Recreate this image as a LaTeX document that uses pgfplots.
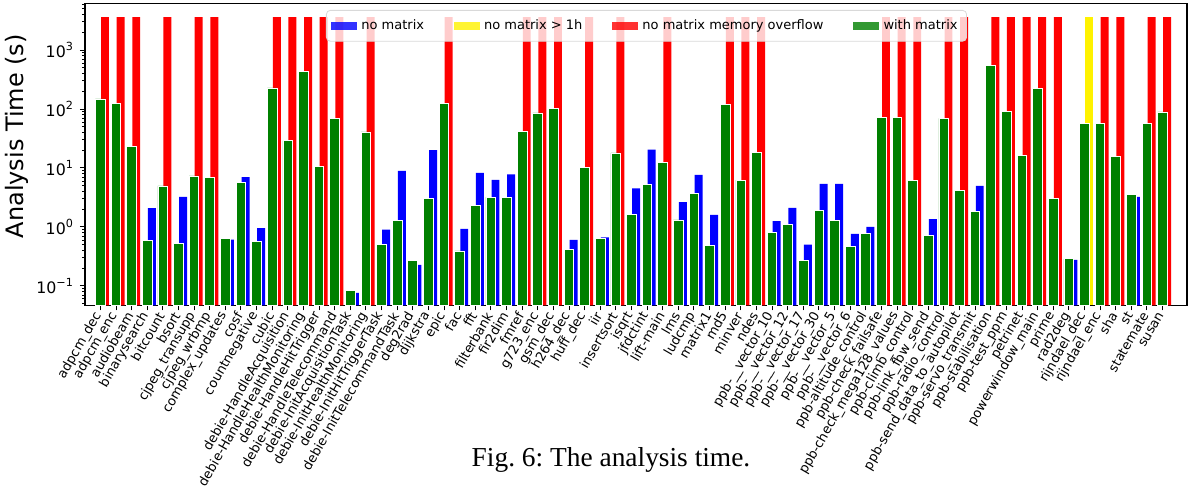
\documentclass[border=0pt]{standalone}
\usepackage{fontspec}
\setmainfont{DejaVu Sans}
\newfontfamily\capfont{Liberation Serif}
\usepackage{pgfplots}
\pgfplotsset{compat=1.18}
\newcommand{\tl}[1]{10\raisebox{0.42em}{\fontsize{5.6}{6}\selectfont #1}}
\definecolor{mgreen}{RGB}{0,128,0}
\begin{document}
\begin{tikzpicture}
\path[use as bounding box] (-42.5pt,-91.75pt) rectangle (558.5pt,152.65pt);
\begin{axis}[
 at={(0,0)}, anchor=south west,
 scale only axis, width=551pt, height=151pt,
 xmin=-0.98, xmax=69.57,
 ymode=log, ymin=0.0467, ymax=6190, log origin y=infty,
 axis line style={line width=0.6pt},
 tick pos=left, tick align=outside,
 major tick length=2.5pt, minor tick length=1.5pt,
 every tick/.style={black, line width=0.4pt},
 ytick={0.1,1,10,100,1000},
 yticklabels={\tl{−1},\tl{0},\tl{1},\tl{2},\tl{3}},
 minor ytick={0.05,0.06,0.07,0.08,0.09,0.2,0.3,0.4,0.5,0.6,0.7,0.8,0.9,2,3,4,5,6,7,8,9,20,30,40,50,60,70,80,90,200,300,400,500,600,700,800,900,2000,3000,4000,5000,6000},
 yticklabel style={font=\fontsize{7.9}{9}\selectfont},
 ylabel={Analysis Time (s)},
 ylabel style={font=\fontsize{12}{14}\selectfont, at={(axis description cs:-0.0622,0.56)}, anchor=center},
 xtick={0,...,68},
 xticklabels={adpcm\_dec,adpcm\_enc,audiobeam,binarysearch,bitcount,bsort,cjpeg\_transupp,cjpeg\_wrbmp,complex\_updates,cosf,countnegative,cubic,debie-HandleAcquisition,debie-HandleHealthMonitoring,debie-HandleHitTrigger,debie-HandleTelecommand,debie-InitAcquisitionTask,debie-InitHealthMonitoring,debie-InitHitTriggerTask,debie-InitTelecommandTask,deg2rad,dijkstra,epic,fac,fft,filterbank,fir2dim,fmref,g723\_enc,gsm\_dec,h264\_dec,huff\_dec,iir,insertsort,isqrt,jfdctint,lift-main,lms,ludcmp,matrix1,md5,minver,ndes,ppb-\_\_vector\_10,ppb-\_\_vector\_12,ppb-\_\_vector\_17,ppb-\_\_vector\_30,ppb-\_\_vector\_5,ppb-\_\_vector\_6,ppb-altitude\_control,ppb-check\_failsafe,ppb-check\_mega128\_values,ppb-climb\_control,ppb-link\_fbw\_send,ppb-radio\_control,ppb-send\_data\_to\_autopilot,ppb-servo\_transmit,ppb-stabilisation,ppb-test\_ppm,petrinet,powerwindow\_main,prime,rad2deg,rijndael\_dec,rijndael\_enc,sha,st,statemate,susan},
 xticklabel style={rotate=60, anchor=east, font=\fontsize{6.5}{7.8}\selectfont, inner sep=1.5pt},
 legend image code/.code={\fill[#1, draw=none, sharp corners] (0pt,-1.9pt) rectangle (13pt,1.9pt);},
 legend style={at={(axis description cs:0.5095,0.978)}, anchor=north, legend columns=4,
   fill=white, fill opacity=0.8, text opacity=1, draw=black!15, rounded corners=2pt,
   font=\fontsize{6.5}{7.8}\selectfont, inner sep=2.5pt,
   /tikz/every even column/.append style={column sep=13pt}},
]
\addplot[ybar, bar width=0.51, bar shift=0pt, fill=blue, draw=none] coordinates {
(3.3,2.07) (5.3,3.22) (8.3,0.61) (9.3,7.0) (10.3,0.95) (16.3,0.076) (18.3,0.90)
(19.3,8.9) (20.3,0.227) (21.3,20) (23.3,0.92) (24.3,8.2) (25.3,6.26) (26.3,7.8)
(30.3,0.60) (32.3,0.66) (34.3,4.5) (35.3,20.5) (37.3,2.62) (38.3,7.6) (39.3,1.6)
(43.3,1.25) (44.3,2.1) (45.3,0.5) (46.3,5.36) (47.3,5.36) (48.3,0.76) (49.3,1.0)
(53.3,1.35) (56.3,4.95) (62.3,0.276) (66.3,3.22)};
\addlegendentry{no matrix}
\addplot[ybar, bar width=0.51, bar shift=0pt, fill=yellow, draw=none] coordinates {
(63.3,3600)};
\addlegendentry{no matrix > 1h}
\addplot[ybar, bar width=0.51, bar shift=0pt, fill=red, draw=none] coordinates {
(0.3,3600) (1.3,3600) (2.3,3600) (4.3,3600) (6.3,3600) (7.3,3600) (11.3,3600)
(12.3,3600) (13.3,3600) (14.3,3600) (15.3,3600) (17.3,3600) (22.3,3600) (27.3,3600)
(28.3,3600) (29.3,3600) (31.3,3600) (33.3,3600) (36.3,3600) (40.3,3600) (41.3,3600)
(42.3,3600) (50.3,3600) (51.3,3600) (52.3,3600) (54.3,3600) (55.3,3600) (57.3,3600)
(58.3,3600) (59.3,3600) (60.3,3600) (61.3,3600) (64.3,3600) (65.3,3600) (67.3,3600)
(68.3,3600)};
\addlegendentry{no matrix memory overflow}
\addplot[ybar, bar width=0.62, bar shift=0pt, fill=mgreen, draw=white, line width=0.4pt] coordinates {
(0,148) (1,126) (2,23.3) (3,0.59) (4,4.95) (5,0.52) (6,7.3) (7,6.85) (8,0.63) (9,5.7)
(10,0.56) (11,227) (12,29) (13,440) (14,10.4) (15,69.5) (16,0.082) (17,40.7) (18,0.51)
(19,1.28) (20,0.27) (21,3.06) (22,123) (23,0.39) (24,2.33) (25,3.18) (26,3.14) (27,41.9)
(28,85.5) (29,101) (30,0.42) (31,10.1) (32,0.63) (33,17.9) (34,1.6) (35,5.15) (36,12.5)
(37,1.31) (38,3.72) (39,0.48) (40,118) (41,6.2) (42,18.2) (43,0.81) (44,1.11) (45,0.27)
(46,1.92) (47,1.28) (48,0.47) (49,0.78) (50,72) (51,72) (52,6.2) (53,0.72) (54,69.5)
(55,4.1) (56,1.85) (57,542) (58,91.4) (59,16.2) (60,221) (61,3.06) (62,0.287) (63,56.4)
(64,56.4) (65,15.6) (66,3.53) (67,56.4) (68,89)};
\addlegendentry{with matrix}
\end{axis}
\node[anchor=base, font=\capfont\fontsize{13.7}{16}\selectfont] at (263pt,-80.6pt) {\frenchspacing Fig. 6: The analysis time.};
\end{tikzpicture}
\end{document}
